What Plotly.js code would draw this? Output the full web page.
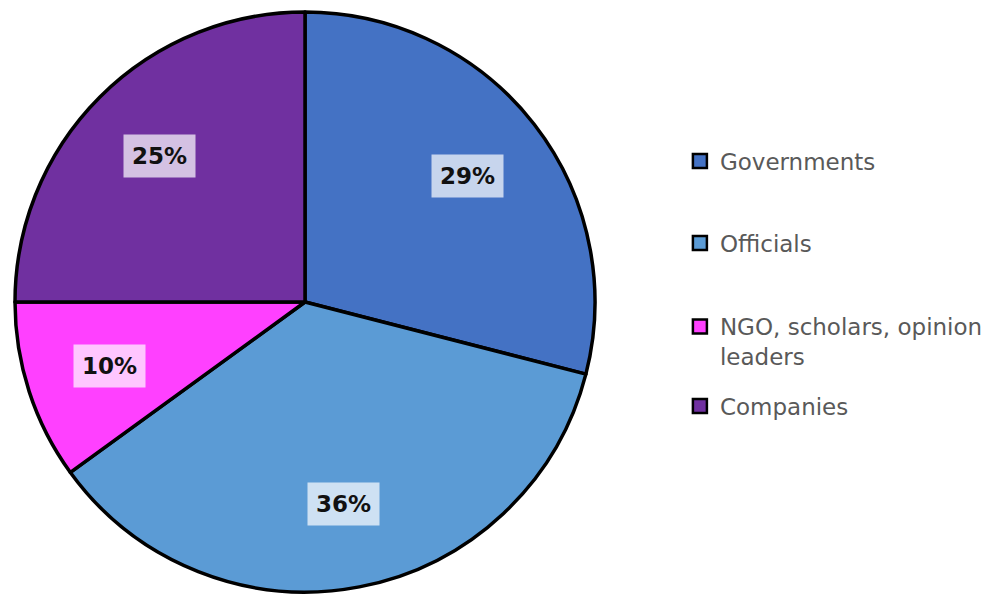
<!DOCTYPE html>
<html>
<head>
<meta charset="utf-8">
<script src="https://cdn.plot.ly/plotly-3.0.1.min.js"></script>
<style>html,body{margin:0;padding:0;background:#fff;}#chart{width:994px;height:598px;}</style>
</head>
<body>
<div id="chart"></div>
<script>
var categories = ["Governments", "Officials", "NGO, scholars, opinion leaders", "Companies"];
var legendLabels = ["Governments", "Officials", "NGO, scholars, opinion<br>leaders", "Companies"];
var shares = [29, 36, 10, 25];
var sliceColors = ["#4472C4", "#5B9BD5", "#FF40FF", "#7030A0"];

var W = 994, H = 598;
var cxPx = 305, cyPx = 302, R = 290;
var dom = {x: [(cxPx - R) / W, (cxPx + R) / W], y: [1 - (cyPx + R) / H, 1 - (cyPx - R) / H]};

var traces = [{
  type: "pie",
  labels: categories,
  values: shares,
  sort: false,
  direction: "clockwise",
  rotation: 0,
  marker: {colors: sliceColors, line: {color: "#000000", width: 3.5}},
  textinfo: "none",
  hoverinfo: "label+percent",
  showlegend: false,
  domain: dom
}];

// legend entries
var legendYs = [161, 243, 341.5, 406];
var legends = {};
categories.forEach(function (c, i) {
  var key = i === 0 ? "legend" : "legend" + (i + 1);
  traces.push({
    type: "scatter", mode: "markers", x: [null], y: [null],
    name: legendLabels[i],
    legend: key,
    marker: {symbol: "square", size: 14, color: sliceColors[i], line: {color: "#000000", width: 2.5}},
    hoverinfo: "skip"
  });
  legends[key] = {
    x: 0.684, xanchor: "left",
    y: 1 - legendYs[i] / H, yanchor: "middle",
    bgcolor: "rgba(0,0,0,0)",
    font: {family: "DejaVu Sans", size: 23, color: "#595959"},
    valign: "top"
  };
});

// percentage labels placed from cumulative shares
var total = shares.reduce(function (a, b) { return a + b; }, 0);
var annotations = [];
var cum = 0;
var k = 0.71;
shares.forEach(function (v) {
  var mid = (cum + v / 2) / total * 2 * Math.PI;
  cum += v;
  annotations.push({
    xref: "paper", yref: "paper",
    x: cxPx / W + k * R / W * Math.sin(mid),
    y: 1 - cyPx / H + k * R / H * Math.cos(mid),
    text: Math.round(v / total * 100) + "%",
    showarrow: false,
    font: {family: "DejaVu Sans", size: 23, color: "#111111", weight: "bold"},
    bgcolor: "rgba(255,255,255,0.7)",
    borderpad: 8,
    xanchor: "center", yanchor: "middle"
  });
});

var layout = Object.assign({
  width: W, height: H,
  margin: {l: 0, r: 0, t: 0, b: 0},
  paper_bgcolor: "#ffffff",
  plot_bgcolor: "#ffffff",
  xaxis: {visible: false, domain: [0.99, 1]},
  yaxis: {visible: false, domain: [0.99, 1]},
  annotations: annotations,
  showlegend: true
}, legends);

Plotly.newPlot("chart", traces, layout, {displayModeBar: false, staticPlot: true});
</script>
</body>
</html>
